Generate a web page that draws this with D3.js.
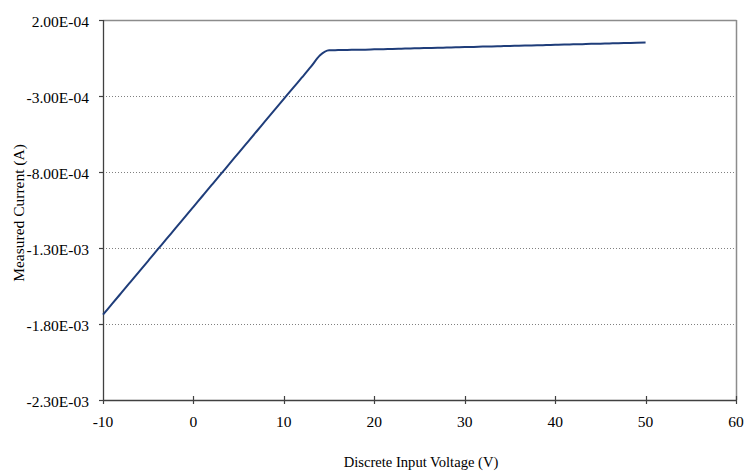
<!DOCTYPE html>
<html>
<head>
<meta charset="utf-8">
<script src="https://cdn.jsdelivr.net/npm/d3@7"></script>
<style>
  html, body { margin: 0; padding: 0; background: #ffffff; }
  svg { display: block; }
  text { font-family: "Liberation Serif", "DejaVu Serif", serif; fill: #000; }
</style>
</head>
<body>
<svg id="chart" width="748" height="471"></svg>
<script>
// ---- data ----
const voltage = [-10,-9,-8,-7,-6,-5,-4,-3,-2,-1,0,1,2,3,4,5,6,7,8,9,10,11,12,13,14,15,16,17,18,19,20,21,22,23,24,25,26,27,28,29,30,31,32,33,34,35,36,37,38,39,40,41,42,43,44,45,46,47,48,49,50];
const current = [
  -1.739e-3,-1.668e-3,-1.597e-3,-1.526e-3,-1.455e-3,-1.384e-3,-1.313e-3,-1.242e-3,-1.171e-3,-1.100e-3,
  -1.029e-3,-0.958e-3,-0.887e-3,-0.816e-3,-0.745e-3,-0.674e-3,-0.603e-3,-0.532e-3,-0.461e-3,-0.390e-3,
  -0.319e-3,-0.248e-3,-0.178e-3,-0.107e-3,-0.032e-3,
  1e-6,2e-6,3e-6,4e-6,5e-6,7e-6,8e-6,1.0e-5,1.1e-5,1.3e-5,1.4e-5,1.6e-5,1.7e-5,1.9e-5,2.0e-5,
  2.2e-5,2.3e-5,2.5e-5,2.6e-5,2.8e-5,2.9e-5,3.1e-5,3.2e-5,3.4e-5,3.5e-5,3.7e-5,3.8e-5,4.0e-5,4.1e-5,
  4.3e-5,4.4e-5,4.6e-5,4.7e-5,4.9e-5,5.0e-5,5.2e-5
];
const xTicks = [-10,0,10,20,30,40,50,60];
const yTicks = [2.0e-4,-3.0e-4,-8.0e-4,-1.3e-3,-1.8e-3,-2.3e-3];
const yTickLabels = ["2.00E-04","-3.00E-04","-8.00E-04","-1.30E-03","-1.80E-03","-2.30E-03"];
const xTitle = "Discrete Input Voltage (V)";
const yTitle = "Measured Current (A)";

// ---- layout ----
const svg = d3.select("#chart");
const L = 103, R = 736, T = 20, B = 400;
const x = d3.scaleLinear().domain([-10, 60]).range([L, R]);
const y = d3.scaleLinear().domain([-2.3e-3, 2.0e-4]).range([B, T]);

// gridlines (dotted)
svg.append("g").selectAll("line")
  .data(yTicks.filter(v => v > -2.3e-3 && v < 2.0e-4))
  .join("line")
  .attr("x1", L).attr("x2", R)
  .attr("y1", d => Math.round(y(d)) + 0.5).attr("y2", d => Math.round(y(d)) + 0.5)
  .attr("stroke", "#808080").attr("stroke-width", 1)
  .attr("stroke-dasharray", "1,2");

// plot frame (top & right gray)
svg.append("line").attr("x1", L).attr("x2", R + 0.5).attr("y1", T + 0.5).attr("y2", T + 0.5)
  .attr("stroke", "#8c8c8c").attr("stroke-width", 1.5);
svg.append("line").attr("x1", R + 0.5).attr("x2", R + 0.5).attr("y1", T).attr("y2", B)
  .attr("stroke", "#8c8c8c").attr("stroke-width", 1.5);

// y axis
const yAxis = svg.append("g");
yAxis.append("line").attr("x1", L + 0.5).attr("x2", L + 0.5).attr("y1", T).attr("y2", B)
  .attr("stroke", "#404040").attr("stroke-width", 1.3);
yAxis.selectAll("line.tk").data(yTicks).join("line").attr("class", "tk")
  .attr("x1", L - 4).attr("x2", L)
  .attr("y1", d => Math.round(y(d)) + 0.5).attr("y2", d => Math.round(y(d)) + 0.5)
  .attr("stroke", "#404040").attr("stroke-width", 1.2);
yAxis.selectAll("text").data(yTicks).join("text")
  .attr("x", L - 14).attr("y", d => y(d) + 7)
  .attr("text-anchor", "end").attr("font-size", "15.5px")
  .text((d, i) => yTickLabels[i]);

// x axis
const xAxis = svg.append("g");
xAxis.append("line").attr("x1", L).attr("x2", R + 1).attr("y1", B + 0.5).attr("y2", B + 0.5)
  .attr("stroke", "#404040").attr("stroke-width", 1.3);
xAxis.selectAll("line.tk").data(xTicks).join("line").attr("class", "tk")
  .attr("x1", d => Math.round(x(d)) + 0.5).attr("x2", d => Math.round(x(d)) + 0.5)
  .attr("y1", d => d === -10 ? B : B - 4).attr("y2", B + 4)
  .attr("stroke", "#404040").attr("stroke-width", 1.2);
xAxis.selectAll("text").data(xTicks).join("text")
  .attr("x", d => x(d)).attr("y", 427)
  .attr("text-anchor", "middle").attr("font-size", "15.5px")
  .text(d => d);

// titles
svg.append("text").attr("x", 421).attr("y", 467)
  .attr("text-anchor", "middle").attr("font-size", "14.6px").text(xTitle);
svg.append("text")
  .attr("transform", "translate(24,213) rotate(-90)")
  .attr("text-anchor", "middle").attr("font-size", "15.5px").text(yTitle);

// data line
const pts = voltage.map((v, i) => [v, current[i]]);
svg.append("path")
  .datum(pts)
  .attr("fill", "none")
  .attr("stroke", "#1f3d7a")
  .attr("stroke-width", 2)
  .attr("stroke-linejoin", "round")
  .attr("d", d3.line().x(d => x(d[0])).y(d => y(d[1])).curve(d3.curveMonotoneX));
</script>
</body>
</html>
